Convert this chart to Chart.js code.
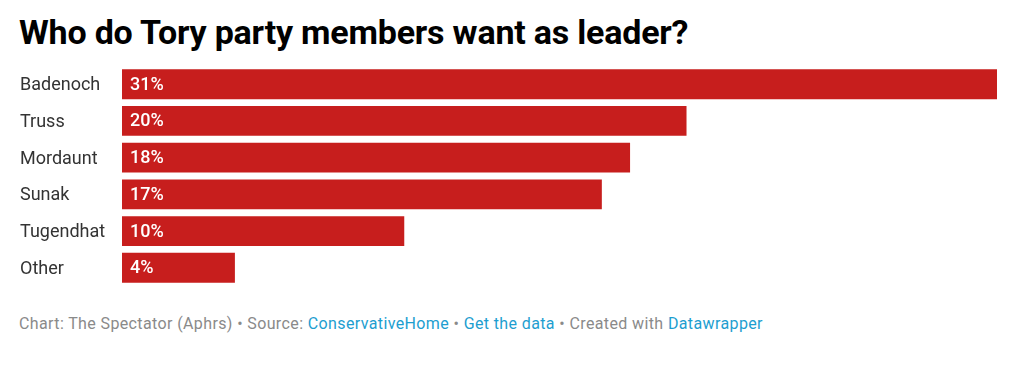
<!DOCTYPE html>
<html>
<head>
<meta charset="utf-8">
<script src="https://cdn.jsdelivr.net/npm/chart.js@4"></script>
<style>
  html, body { margin: 0; padding: 0; background: #fff; }
  body { width: 1024px; height: 365px; position: relative; overflow: hidden; font-family: Roboto, "Noto Sans", sans-serif; }
  #title { position: absolute; left: 19px; top: 15px; margin: 0; font-size: 34px; line-height: 34px; font-weight: 700; color: #000; white-space: nowrap; letter-spacing: -0.2px; }
  #wrap { position: absolute; left: 0; top: 55px; width: 1024px; height: 242px; }
  #footer { position: absolute; left: 19px; top: 316px; font-size: 16px; line-height: 16px; color: #8a8a8a; white-space: nowrap; letter-spacing: 0.38px; }
  #footer a { color: #1d9ed0; text-decoration: none; }
</style>
</head>
<body>
<h1 id="title">Who do Tory party members want as leader?</h1>
<div id="wrap"><canvas id="c"></canvas></div>
<div id="footer">Chart: The Spectator (Aphrs) • Source: <a>ConservativeHome</a> • <a>Get the data</a> • Created with <a>Datawrapper</a></div>
<script>
const categories = ["Badenoch", "Truss", "Mordaunt", "Sunak", "Tugendhat", "Other"];
const values = [31, 20, 18, 17, 10, 4];
const valueLabels = ["31%", "20%", "18%", "17%", "10%", "4%"];

const insideLabels = {
  id: 'insideLabels',
  afterDatasetsDraw(chart) {
    const ctx = chart.ctx;
    const meta = chart.getDatasetMeta(0);
    ctx.save();
    ctx.fillStyle = '#ffffff';
    ctx.font = '500 18px Roboto, sans-serif';
    ctx.textBaseline = 'middle';
    ctx.textAlign = 'left';
    meta.data.forEach((bar, i) => {
      ctx.fillText(valueLabels[i], bar.base + 8, bar.y + 1);
    });
    ctx.restore();
  }
};

new Chart(document.getElementById('c'), {
  type: 'bar',
  data: {
    labels: categories,
    datasets: [{
      data: values,
      backgroundColor: '#c71e1d',
      borderWidth: 0,
      barPercentage: 0.815,
      categoryPercentage: 1.0
    }]
  },
  options: {
    indexAxis: 'y',
    responsive: true,
    maintainAspectRatio: false,
    animation: false,
    layout: { padding: { left: 20, right: 27, top: 0, bottom: 0 } },
    plugins: { legend: { display: false }, tooltip: { enabled: false } },
    scales: {
      x: { display: false, min: 0, max: 31 },
      y: {
        grid: { display: false },
        border: { display: false },
        ticks: {
          crossAlign: 'far',
          padding: 0,
          labelOffset: 1.5,
          color: '#333333',
          font: { family: 'Roboto, sans-serif', size: 18 }
        },
        afterFit(scale) { scale.width = 102; }
      }
    }
  },
  plugins: [insideLabels]
});
</script>
</body>
</html>
